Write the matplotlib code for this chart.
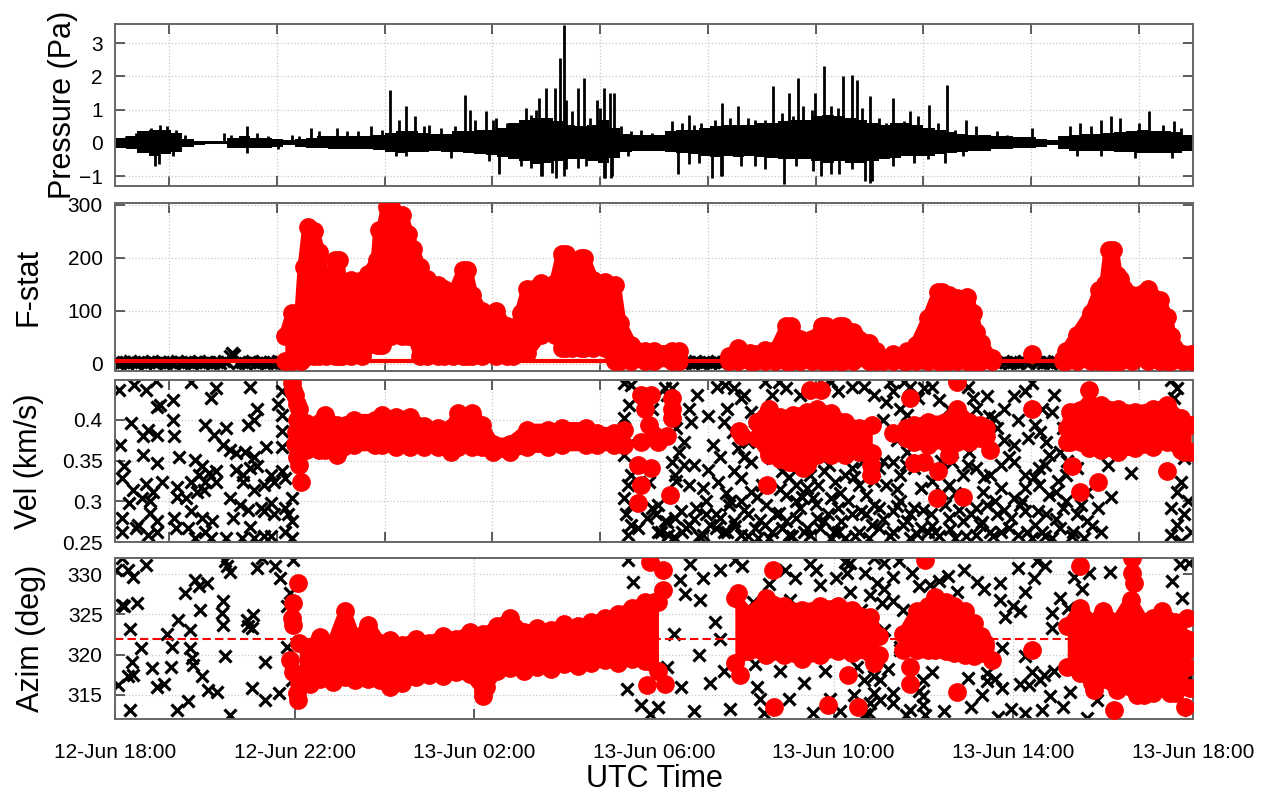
import matplotlib.pyplot as plt

plt.rcParams['font.family'] = ['Liberation Sans', 'DejaVu Sans']

# time axis: hours after 12-Jun 18:00 UTC
tick_hours = [0, 4, 8, 12, 16, 20, 24]
tick_labels = ['12-Jun 18:00', '12-Jun 22:00', '13-Jun 02:00', '13-Jun 06:00',
               '13-Jun 10:00', '13-Jun 14:00', '13-Jun 18:00']
upper_ticks = [1.2, 3.6, 6.0, 8.4, 10.8, 13.2, 15.6, 18.0, 20.4, 22.8]

# ---- pressure trace: envelope per 15 min bin + isolated spikes
p_t = [0.0, 0.25, 0.5, 0.75, 1.0, 1.25, 1.5, 1.75, 2.0, 2.25, 2.5, 2.75,
       3.0, 3.25, 3.5, 3.75, 4.0, 4.25, 4.5, 4.75, 5.0, 5.25, 5.5, 5.75,
       6.0, 6.25, 6.5, 6.75, 7.0, 7.25, 7.5, 7.75, 8.0, 8.25, 8.5, 8.75,
       9.0, 9.25, 9.5, 9.75, 10.0, 10.25, 10.5, 10.75, 11.0, 11.25, 11.5, 11.75,
       12.0, 12.25, 12.5, 12.75, 13.0, 13.25, 13.5, 13.75, 14.0, 14.25, 14.5, 14.75,
       15.0, 15.25, 15.5, 15.75, 16.0, 16.25, 16.5, 16.75, 17.0, 17.25, 17.5, 17.75,
       18.0, 18.25, 18.5, 18.75, 19.0, 19.25, 19.5, 19.75, 20.0, 20.25, 20.5, 20.75,
       21.0, 21.25, 21.5, 21.75, 22.0, 22.25, 22.5, 22.75, 23.0, 23.25, 23.5, 23.75, 24.0]
p_hi = [0.15, 0.22, 0.35, 0.4, 0.38, 0.3, 0.12, 0.06, 0.04, 0.04, 0.15, 0.2,
        0.15, 0.15, 0.12, 0.08, 0.12, 0.15, 0.2, 0.2, 0.2, 0.2, 0.22, 0.25,
        0.3, 0.35, 0.35, 0.3, 0.28, 0.28, 0.35, 0.35, 0.4, 0.4, 0.45, 0.6,
        0.7, 0.75, 0.75, 0.65, 0.55, 0.5, 0.55, 0.7, 0.45, 0.28, 0.25, 0.25,
        0.25, 0.35, 0.4, 0.4, 0.45, 0.5, 0.55, 0.55, 0.55, 0.6, 0.6, 0.65,
        0.7, 0.7, 0.8, 0.85, 0.8, 0.75, 0.7, 0.6, 0.55, 0.6, 0.6, 0.55,
        0.45, 0.4, 0.32, 0.28, 0.25, 0.25, 0.2, 0.2, 0.17, 0.17, 0.12, 0.08,
        0.2, 0.25, 0.28, 0.28, 0.3, 0.32, 0.35, 0.38, 0.35, 0.35, 0.32, 0.25, 0.25]
p_lo = [-0.15, -0.2, -0.3, -0.4, -0.35, -0.28, -0.12, -0.06, -0.04, -0.04, -0.15, -0.15,
        -0.15, -0.15, -0.12, -0.08, -0.12, -0.15, -0.17, -0.2, -0.2, -0.2, -0.2, -0.22,
        -0.28, -0.3, -0.28, -0.28, -0.25, -0.28, -0.28, -0.3, -0.35, -0.38, -0.42, -0.48,
        -0.55, -0.65, -0.62, -0.55, -0.5, -0.48, -0.55, -0.62, -0.45, -0.28, -0.25, -0.25,
        -0.25, -0.28, -0.32, -0.35, -0.4, -0.42, -0.4, -0.42, -0.4, -0.42, -0.45, -0.48,
        -0.5, -0.48, -0.55, -0.6, -0.55, -0.6, -0.6, -0.55, -0.48, -0.45, -0.4, -0.4,
        -0.4, -0.35, -0.32, -0.28, -0.25, -0.25, -0.2, -0.2, -0.17, -0.17, -0.12, -0.08,
        -0.2, -0.25, -0.25, -0.25, -0.25, -0.28, -0.28, -0.3, -0.32, -0.32, -0.32, -0.25, -0.25]
spike_t = [0.9, 2.93, 4.36, 5.71, 6.13, 6.48, 6.67, 7.79, 7.91, 8.25, 8.49, 8.56,
           9.14, 9.45, 9.5, 9.6, 9.8, 9.82, 9.91, 9.99, 10.0, 10.3, 10.45, 10.72,
           10.88, 10.9, 11.03, 11.05, 11.11, 12.54, 12.78, 13.3, 13.5, 13.51, 13.86,
           14.66, 14.9, 15.01, 15.2, 15.59, 15.78, 16.2, 16.4, 16.52, 16.7, 16.8,
           16.82, 17.32, 18.13, 18.52, 21.95, 22.18, 22.37, 23.03, 23.57,
           0.24, 0.47, 0.81, 1.01, 1.16, 1.35, 1.55, 2.43, 2.59, 3.17, 3.4, 3.94, 4.09,
           4.55, 4.94, 5.17, 5.4, 5.94, 6.33, 6.87, 6.98, 7.25, 7.56, 8.02, 8.41, 8.72,
           9.03, 9.26, 9.37, 10.03, 10.18, 10.57, 10.8, 11.26, 11.49, 11.72, 11.96,
           0.97, 1.28, 2.93, 3.63, 6.25, 6.48, 7.48, 8.33, 9.03, 9.26, 9.49, 9.72,
           10.03, 10.3, 10.49, 10.88, 11.07, 11.42,
           12.39, 12.62, 12.89, 13.05, 13.36, 13.7, 14.09, 14.24, 14.47, 14.86, 15.09,
           15.32, 15.52, 15.94, 16.09, 16.63, 17.02, 17.17, 17.56, 17.71, 17.87, 18.33,
           18.71, 18.95, 19.18, 19.64, 19.87, 20.41, 21.26, 21.49, 21.72, 22.8, 23.34, 23.73,
           12.78, 13.0, 13.51, 13.93, 14.24, 14.47, 15.17, 15.55, 15.71, 15.94, 16.13,
           16.4, 16.86, 17.33, 17.79, 18.1, 18.48, 18.87, 21.41, 21.95, 22.72, 23.53]
spike_v = [-0.7, 0.5, 0.45, 0.5, 1.6, 1.1, 0.8, 1.45, 1.0, 0.95, 0.75, -0.95,
           1.05, 1.35, -1.0, 1.65, 1.65, -1.05, 2.55, 3.55, -1.0, 1.65, 1.95, 1.3,
           1.65, -1.05, 1.5, -1.05, 1.5, -0.95, 0.85, -1.05, -1.0, 1.2, 1.1,
           1.7, -1.25, 1.5, 1.95, 1.5, 2.3, 2.0, 2.05, 1.9, -1.15, -1.2,
           1.4, 1.35, 1.15, 1.75, 0.7, 0.8, 0.75, 0.95, 0.65,
           0.2, 0.3, 0.45, 0.55, 0.5, 0.4, 0.25, 0.3, 0.25, 0.3, 0.2, 0.25, 0.22,
           0.35, 0.45, 0.35, 0.35, 0.4, 0.7, 0.5, 0.55, 0.45, 0.5, 0.7, 0.7, 0.6,
           0.4, 0.85, 1.0, 1.3, 0.95, 0.75, 1.05, 0.5, 0.35, 0.4, 0.3,
           -0.65, -0.4, -0.3, -0.2, -0.4, -0.4, -0.45, -0.55, -0.7, -0.75, -1.0, -0.9,
           -0.8, -0.75, -0.7, -1.05, -1.0, -0.4,
           0.65, 0.6, 0.55, 0.6, 0.7, 0.75, 0.75, 0.7, 0.7, 0.9, 0.8,
           1.1, 1.0, 1.1, 1.05, 1.05, 0.75, 0.6, 0.65, 0.95, 0.8, 0.6,
           0.4, 0.7, 0.5, 0.35, 0.25, 0.45, 0.5, 0.6, 0.5, 0.6, 0.55, 0.45,
           -0.65, -0.6, -1.0, -0.7, -0.7, -0.8, -0.7, -0.85, -1.0, -0.95, -0.95,
           -0.8, -1.15, -0.7, -0.6, -0.5, -0.6, -0.4, -0.4, -0.4, -0.45, -0.45]

# ---- F-stat: detections drawn as filled clusters (time, top, bottom)
fA_t = [3.78, 3.94, 4.13, 4.2, 4.3, 4.42, 4.55, 4.7, 4.9, 4.98, 5.06, 5.25, 5.5, 5.63,
        5.83, 5.88, 5.95, 6.05, 6.15, 6.4, 6.52, 6.64, 6.79, 6.94, 7.18, 7.33, 7.52,
        7.75, 7.83, 7.95, 8.18, 8.49, 8.72, 8.87, 9.03, 9.18, 9.49, 9.8, 9.95, 10.03,
        10.18, 10.38, 10.45, 10.64, 10.9, 11.13, 11.25, 11.49, 11.8, 12.0, 12.4, 12.55]
fA_hi = [52, 96, 96, 183, 258, 250, 211, 117, 196, 196, 120, 158, 158, 170,
         196, 252, 252, 296, 296, 280, 245, 217, 183, 161, 149, 142, 130,
         177, 177, 130, 99, 99, 71, 52, 96, 142, 152, 152, 208, 208,
         152, 199, 199, 158, 155, 149, 77, 36, 24, 24, 24, 24]
fA_lo = [5, 5, 5, 15, 15, 15, 15, 15, 15, 15, 15, 15, 15, 35,
         35, 35, 35, 52, 52, 52, 52, 52, 15, 15, 15, 15, 15,
         15, 15, 15, 15, 15, 15, 15, 20, 20, 55, 55, 30, 30,
         30, 30, 30, 30, 30, 5, 5, 5, 5, 5, 5, 5]
fB_t = [13.66, 13.86, 14.13, 14.24, 14.47, 14.7, 14.95, 15.05, 15.25, 15.52, 15.75, 15.83,
        15.94, 16.13, 16.21, 16.44, 16.79, 16.94, 17.1, 17.33]
fB_hi = [15, 30, 20, 18, 27, 27, 71, 71, 46, 46, 71, 71, 46, 71, 71, 61, 39, 24, 10, 18]
fC_t = [17.56, 17.64, 17.83, 18.1, 18.33, 18.42, 18.56, 18.75, 18.98, 19.1, 19.18, 19.29, 19.52]
fC_hi = [10, 24, 36, 86, 136, 136, 130, 125, 127, 96, 61, 39, 11]
fE_t = [21.1, 21.18, 21.41, 21.72, 21.91, 22.05, 22.14, 22.22, 22.3, 22.38, 22.65, 23.0,
        23.26, 23.42, 23.5, 23.77, 23.96]
fE_hi = [10, 24, 55, 96, 139, 150, 214, 214, 167, 161, 130, 142, 121, 89, 52, 18, 18]
f_floor = 5
f_single_t = [20.41]
f_single_v = [18]
f_thresh = 5
f_blk_t = [0.02, 0.1, 0.18, 0.26, 0.34, 0.42, 0.5, 0.58, 0.66, 0.74, 0.82, 0.9, 0.98,
           1.06, 1.14, 1.22, 1.3, 1.38, 1.46, 1.54, 1.62, 1.7, 1.78, 1.86, 1.94,
           2.02, 2.1, 2.18, 2.26, 2.34, 2.42, 2.5, 2.55, 2.6, 2.65, 2.74, 2.82, 2.9,
           2.98, 3.06, 3.14, 3.22, 3.3, 3.38, 3.46, 3.54, 3.62, 3.7, 3.78,
           12.6, 12.68, 12.76, 12.84, 12.92, 13.0, 13.08, 13.16, 13.24, 13.32, 13.4,
           13.48, 13.56, 17.4, 17.48, 19.6, 19.68, 19.76, 19.84, 19.92, 20.0, 20.08,
           20.16, 20.24, 20.32, 20.5, 20.58, 20.66, 20.74, 20.82, 20.9, 20.98, 21.06]
f_blk_v = [3, 1, 4, 2, 5, 3, 2, 4, 1, 3, 5, 2, 4,
           3, 1, 4, 2, 5, 3, 2, 4, 1, 3, 5, 2,
           4, 3, 1, 4, 2, 5, 3, 14, 20, 16, 2, 4, 1,
           3, 5, 2, 4, 3, 1, 4, 2, 5, 3, 2,
           3, 1, 4, 2, 5, 3, 2, 4, 1, 3, 5,
           2, 4, 3, 1, 4, 2, 5, 3, 2, 4, 1,
           3, 5, 2, 4, 3, 1, 4, 2, 5, 3, 2]

# ---- velocity: non-detections (black) and detections (red)
v_blk_t = [0.08, 0.43, 0.70, 0.92, 1.70, 2.24, 2.13, 3.01, 1.01, 1.28, 0.93, 3.17, 3.71, 3.63,
           0.35, 1.28, 2.01, 2.47, 2.97, 3.09, 3.71, 3.71, 0.12, 0.62, 0.74, 0.93, 1.32,
           2.20, 2.40, 2.55, 2.70, 2.90, 3.09, 3.36, 3.71, 0.62, 1.43, 1.78, 0.93, 0.20,
           1.93, 2.09, 2.24, 2.70, 2.86, 3.01, 3.17, 3.48, 3.71, 0.16, 0.39, 0.70, 0.85,
           1.05, 1.39, 1.70, 1.86, 2.01, 2.24, 2.86, 3.09, 3.32, 3.55, 3.78, 0.32, 0.59,
           0.78, 1.39, 1.59, 1.82, 1.97, 2.55, 2.78, 2.97, 3.24, 3.48, 3.78, 3.94, 0.16,
           0.51, 0.78, 0.93, 1.32, 1.70, 1.93, 2.16, 2.63, 3.01, 3.32, 3.55, 3.86, 3.94,
           0.16, 0.47, 0.74, 0.93, 1.36, 1.62, 2.01, 2.13, 2.47, 2.82, 3.09, 3.32, 3.48,
           3.78, 3.94, 1.78,
           11.34, 11.49, 11.45, 11.34, 11.49, 11.34, 11.49, 11.42, 11.34, 11.49, 11.38,
           11.49, 11.42, 11.65, 11.84, 11.96, 11.88, 11.96,
           12.24, 12.39, 12.28, 12.78, 12.82, 12.66, 12.55, 12.39, 12.66, 12.47, 12.78,
           13.09, 12.08, 12.05, 12.24, 12.47, 12.62, 12.08, 12.32, 12.78, 12.93,
           13.59, 13.78, 13.93, 13.63, 13.55, 13.32, 13.47, 13.86, 14.09, 14.24, 13.78,
           13.93, 14.17, 13.43, 13.70, 13.93, 14.17, 14.4, 13.47, 13.78, 14.09, 14.24,
           13.63, 13.93, 13.16, 13.39, 13.09, 14.32,
           14.47, 14.78, 14.94, 14.63, 15.25, 14.63, 14.86, 15.17, 15.48, 14.94, 15.17,
           15.4, 15.55, 14.71, 14.47, 14.86, 15.17, 15.4, 15.63, 14.55, 15.01, 15.48,
           15.94, 16.09, 15.79, 16.25, 16.56, 16.4, 16.63, 15.79, 16.02, 16.25, 16.56,
           16.71, 15.94, 16.09, 16.4, 16.71, 16.86, 15.79, 16.09, 16.56, 15.94, 16.25, 16.79,
           16.67, 17.25, 17.56, 17.33, 18.02, 17.17, 17.48, 17.64, 17.87, 17.94, 17.64,
           17.33, 17.79, 17.48, 17.17, 17.02, 17.94, 17.48, 17.79, 17.33, 17.02, 17.64,
           17.94, 17.33, 17.02, 17.71, 18.1,
           18.56, 19.1, 19.41, 19.18, 19.56, 19.25, 19.64, 19.02, 18.64, 18.56, 18.87,
           19.18, 19.49, 19.18, 19.33, 18.56, 18.87, 19.25, 18.71, 19.18, 19.49, 18.25,
           18.48, 18.17,
           19.79, 20.02, 20.41, 20.64, 20.49, 20.87, 20.02, 20.33, 20.72, 19.72, 20.02,
           20.26, 20.57, 20.8, 19.72, 20.02, 20.26, 20.57, 20.8, 19.64, 19.95, 20.26,
           20.49, 20.72, 19.72, 20.1, 20.41, 20.64, 20.87,
           21.03, 21.18, 21.41, 21.64, 22.18, 20.95, 21.18, 21.41, 21.64, 21.88, 21.03,
           21.34, 21.57, 21.95, 22.61, 22.11,
           23.5, 23.65, 23.57, 23.8, 23.73, 23.65, 23.88, 23.5, 23.8, 23.65, 23.96, 23.5, 23.73]
v_blk_v = [0.437, 0.443, 0.437, 0.448, 0.446, 0.439, 0.427, 0.440, 0.418, 0.424, 0.416, 0.414, 0.435, 0.420,
           0.396, 0.400, 0.394, 0.390, 0.394, 0.400, 0.406, 0.386, 0.369, 0.380, 0.388, 0.382, 0.380,
           0.382, 0.369, 0.363, 0.359, 0.361, 0.355, 0.367, 0.367, 0.357, 0.355, 0.351, 0.347, 0.343,
           0.343, 0.335, 0.337, 0.339, 0.333, 0.341, 0.343, 0.333, 0.337, 0.329, 0.314, 0.322, 0.312,
           0.324, 0.318, 0.324, 0.333, 0.324, 0.324, 0.324, 0.314, 0.320, 0.324, 0.329, 0.298, 0.304,
           0.300, 0.306, 0.304, 0.312, 0.314, 0.304, 0.296, 0.290, 0.292, 0.298, 0.292, 0.304, 0.280,
           0.271, 0.286, 0.276, 0.280, 0.288, 0.280, 0.276, 0.280, 0.269, 0.288, 0.284, 0.284, 0.276,
           0.263, 0.267, 0.259, 0.263, 0.267, 0.267, 0.263, 0.255, 0.255, 0.255, 0.255, 0.257, 0.257,
           0.263, 0.255, 0.255,
           0.445, 0.443, 0.418, 0.402, 0.373, 0.357, 0.333, 0.320, 0.304, 0.296, 0.284,
           0.271, 0.259, 0.267, 0.280, 0.292, 0.324, 0.414,
           0.439, 0.439, 0.431, 0.414, 0.398, 0.373, 0.361, 0.349, 0.345, 0.333, 0.320,
           0.316, 0.296, 0.284, 0.276, 0.280, 0.263, 0.263, 0.259, 0.271, 0.292,
           0.443, 0.439, 0.427, 0.414, 0.398, 0.369, 0.355, 0.365, 0.373, 0.386, 0.337,
           0.329, 0.349, 0.324, 0.300, 0.300, 0.312, 0.320, 0.280, 0.276, 0.284, 0.267,
           0.263, 0.259, 0.284, 0.267, 0.259, 0.255,
           0.447, 0.447, 0.439, 0.431, 0.431, 0.353, 0.337, 0.320, 0.333, 0.308, 0.300,
           0.316, 0.304, 0.284, 0.271, 0.267, 0.280, 0.267, 0.280, 0.255, 0.259, 0.259,
           0.447, 0.435, 0.443, 0.394, 0.373, 0.341, 0.349, 0.337, 0.324, 0.333, 0.320,
           0.308, 0.304, 0.292, 0.284, 0.284, 0.271, 0.276, 0.263, 0.263, 0.255, 0.255, 0.255,
           0.441, 0.447, 0.447, 0.435, 0.439, 0.422, 0.414, 0.406, 0.427, 0.373, 0.361,
           0.349, 0.341, 0.333, 0.320, 0.341, 0.316, 0.300, 0.292, 0.288, 0.292, 0.276,
           0.267, 0.263, 0.267, 0.255, 0.263,
           0.414, 0.427, 0.429, 0.414, 0.402, 0.390, 0.390, 0.361, 0.349, 0.320, 0.333,
           0.341, 0.333, 0.292, 0.312, 0.280, 0.276, 0.271, 0.255, 0.259, 0.263, 0.263,
           0.296, 0.284,
           0.414, 0.429, 0.445, 0.414, 0.394, 0.410, 0.369, 0.378, 0.373, 0.345, 0.349,
           0.333, 0.341, 0.357, 0.316, 0.304, 0.316, 0.320, 0.308, 0.284, 0.280, 0.288,
           0.271, 0.284, 0.263, 0.259, 0.255, 0.263, 0.255,
           0.361, 0.333, 0.341, 0.312, 0.306, 0.312, 0.300, 0.284, 0.276, 0.292, 0.267,
           0.263, 0.255, 0.263, 0.335, 0.345,
           0.449, 0.439, 0.427, 0.353, 0.324, 0.312, 0.300, 0.292, 0.284, 0.271, 0.263, 0.259, 0.251]
# the crowded afternoon/morning stretch of non-detections
v_blk2_t = [12.15, 12.3, 12.45, 12.6, 12.72, 12.88, 13.0, 13.15, 13.25, 13.38, 13.55, 13.66,
            13.8, 14.0, 14.1, 14.35, 14.5, 14.62, 14.78, 14.95, 15.08, 15.25, 15.35, 15.6,
            15.7, 15.88, 16.0, 16.17, 16.33, 16.48, 16.6, 16.9, 17.1, 17.25, 17.42, 17.55,
            17.7, 17.85, 18.0, 18.18, 18.35, 18.42, 18.6, 18.78, 18.95, 19.05, 19.3, 19.42,
            19.55, 19.8, 19.9, 20.15, 20.3, 20.55, 20.7, 20.95, 21.1, 21.3, 21.5, 21.75,
            12.5, 12.9, 13.2, 13.6, 14.0, 14.3, 14.8, 15.0, 15.3, 15.65, 15.9, 16.15, 16.45,
            16.9, 17.1, 17.4, 17.6, 18.2, 18.4, 18.7, 19.0, 19.35, 19.6, 19.9, 20.2, 20.45,
            20.7, 21.0, 21.2,
            12.5, 12.95, 13.2, 13.4, 13.75, 14.0, 14.15, 16.4, 16.9, 17.1, 17.4, 17.7, 18.2,
            18.35, 19.0, 19.45, 19.8, 20.1, 20.25, 20.6, 20.9, 21.1]
v_blk2_v = [0.262, 0.275, 0.256, 0.288, 0.268, 0.279, 0.258, 0.300, 0.271, 0.285, 0.262, 0.296,
            0.270, 0.289, 0.258, 0.277, 0.296, 0.262, 0.286, 0.276, 0.258, 0.292, 0.262, 0.297,
            0.268, 0.285, 0.262, 0.276, 0.300, 0.258, 0.288, 0.296, 0.278, 0.257, 0.295, 0.271,
            0.285, 0.260, 0.290, 0.270, 0.258, 0.310, 0.266, 0.290, 0.258, 0.284, 0.275, 0.296,
            0.258, 0.290, 0.268, 0.296, 0.262, 0.288, 0.258, 0.279, 0.292, 0.258, 0.296, 0.270,
            0.325, 0.345, 0.338, 0.310, 0.355, 0.305, 0.315, 0.330, 0.305, 0.320, 0.345, 0.310,
            0.330, 0.325, 0.350, 0.315, 0.345, 0.325, 0.350, 0.310, 0.345, 0.330, 0.300, 0.355,
            0.300, 0.330, 0.345, 0.325, 0.350,
            0.390, 0.430, 0.405, 0.440, 0.385, 0.430, 0.410, 0.440, 0.430, 0.400, 0.375, 0.440,
            0.440, 0.425, 0.440, 0.405, 0.375, 0.400, 0.435, 0.385, 0.430, 0.390]

vA_t = [4.1, 4.25, 4.55, 4.67, 4.94, 5.32, 5.79, 5.94, 6.25, 6.56, 6.87, 7.18, 7.48, 7.64,
        7.95, 8.18, 8.41, 8.79, 9.18, 9.64, 9.95, 10.49, 10.72, 11.11, 11.34]
vA_hi = [0.392, 0.396, 0.396, 0.406, 0.394, 0.400, 0.400, 0.406, 0.404, 0.404, 0.392, 0.390,
         0.390, 0.408, 0.408, 0.394, 0.371, 0.371, 0.388, 0.388, 0.390, 0.390, 0.384, 0.384, 0.388]
vA_lo = [0.365, 0.363, 0.363, 0.363, 0.357, 0.369, 0.369, 0.369, 0.367, 0.367, 0.367, 0.367,
         0.361, 0.367, 0.367, 0.367, 0.361, 0.361, 0.367, 0.367, 0.369, 0.369, 0.369, 0.369, 0.369]
vB_t = [14.3, 14.55, 14.8, 15.09, 15.4, 15.63, 15.94, 16.25, 16.56, 16.86]
vB_hi = [0.398, 0.414, 0.404, 0.406, 0.410, 0.414, 0.408, 0.398, 0.390, 0.394]
vB_lo = [0.378, 0.357, 0.352, 0.349, 0.345, 0.357, 0.357, 0.357, 0.361, 0.360]
vC_t = [17.6, 17.79, 18.1, 18.48, 18.75, 19.02, 19.25, 19.4]
vC_hi = [0.390, 0.394, 0.398, 0.398, 0.414, 0.398, 0.394, 0.390]
vC_lo = [0.378, 0.373, 0.369, 0.373, 0.373, 0.373, 0.378, 0.380]
vD_t = [21.2, 21.26, 21.68, 21.95, 22.34, 22.72, 23.11, 23.42, 23.73, 23.96]
vD_hi = [0.390, 0.410, 0.420, 0.418, 0.414, 0.410, 0.414, 0.418, 0.402, 0.394]
vD_lo = [0.373, 0.373, 0.365, 0.363, 0.361, 0.365, 0.367, 0.373, 0.363, 0.361]
v_red_t = [3.94, 3.97, 4.01, 4.05, 4.09, 4.05, 4.02, 4.0, 4.05, 4.09, 4.15,
           11.72, 11.8, 11.88, 11.72, 11.65, 11.72, 11.65,
           11.93, 12.0, 11.93, 12.39, 12.39, 12.39, 12.28, 12.08, 12.35,
           13.9, 13.97, 14.51, 15.48, 15.71, 15.01, 15.32, 16.83, 16.83,
           17.33, 17.71, 18.75, 17.79, 18.02, 18.33, 18.29, 18.87, 18.56, 19.49,
           20.41, 21.68, 21.3, 21.49, 21.88, 23.42, 23.8]
v_red_v = [0.445, 0.437, 0.431, 0.420, 0.414, 0.400, 0.385, 0.370, 0.355, 0.345, 0.324,
           0.431, 0.414, 0.394, 0.373, 0.345, 0.320, 0.298,
           0.431, 0.382, 0.341, 0.427, 0.414, 0.402, 0.380, 0.373, 0.308,
           0.386, 0.380, 0.320, 0.437, 0.437, 0.349, 0.341, 0.345, 0.333,
           0.384, 0.427, 0.447, 0.347, 0.349, 0.337, 0.304, 0.306, 0.357, 0.363,
           0.414, 0.437, 0.343, 0.312, 0.324, 0.337, 0.361]

# ---- azimuth
az_ref = 322
az_blk_t = [0.02, 0.15, 0.30, 0.41, 0.68, 0.15, 0.19, 0.50, 0.33, 0.57, 0.07, 0.30, 0.41, 0.37,
            0.33, 0.82, 0.93, 1.08, 1.24, 1.15, 1.26, 1.41, 1.37, 1.63, 1.56, 1.67, 1.67, 1.71,
            1.74, 1.78, 1.86, 1.93, 1.89, 2.04, 2.08, 2.26, 2.41, 2.38, 2.41, 2.45, 2.49, 2.56,
            2.45, 2.56, 2.93, 2.97, 3.08, 3.04, 3.16, 3.27, 3.34, 3.04, 3.34, 3.56, 3.67, 3.64,
            3.82, 3.93, 3.97, 3.82, 3.90,
            11.43, 11.54, 11.47, 11.43, 11.52, 11.4, 11.7, 11.9,
            12.58, 12.8, 13.03, 13.47, 13.47, 13.8, 14.14, 14.25, 14.37, 14.92, 15.03, 15.48,
            15.7, 15.92,
            16.37, 16.89, 17.11, 17.45, 16.3, 16.7, 16.96, 17.11, 17.33, 17.74, 16.37, 16.81,
            17.07, 17.33, 17.55, 17.89, 16.6, 17.11, 17.48, 18.34, 18.15, 18.75, 19.34, 19.71,
            19.71, 20.0, 20.15, 19.82, 20.27, 20.86, 20.86, 21.22, 20.53, 19.75, 20.27, 20.42,
            20.68, 20.6, 20.34, 20.15, 19.41, 19.41, 19.0, 19.75, 20.82, 20.64, 19.67, 21.27,
            21.64, 22.16, 23.54, 23.76, 23.72, 23.91, 23.72, 23.91, 23.72, 23.94, 23.94,
            16.52, 16.67, 16.89, 17.04, 16.89, 16.81, 17.04, 17.33, 17.33, 17.7, 17.99, 17.99,
            17.99, 18.03, 16.78, 17.48, 21.35, 21.68, 21.53, 21.86,
            12.1, 12.3, 12.45, 12.6, 12.7, 12.9, 13.0, 13.1, 13.25, 13.35, 13.55, 13.7, 13.95,
            14.2, 14.3, 14.45, 14.55, 14.8, 15.0, 15.15, 15.35, 15.55, 15.6, 15.8, 16.05, 16.15,
            16.25, 16.45, 16.7, 17.2, 17.6, 17.9, 18.2, 18.45, 18.55, 18.9, 19.05, 19.2, 19.3,
            19.6, 19.95, 20.1, 20.25, 20.45, 20.7, 20.9, 21.05, 21.1]
az_blk_v = [330.5, 332.0, 330.5, 329.7, 331.1, 326.2, 326.0, 326.4, 323.2, 320.8, 316.2, 317.3,
            317.5, 319.1, 313.1, 318.3, 316.0, 316.4, 318.5, 322.5, 321.0, 324.3, 313.1, 314.2,
            327.6, 323.1, 320.8, 319.6, 318.7, 329.3, 328.5, 317.3, 325.6, 328.9, 315.6, 315.4,
            326.6, 325.2, 323.7, 331.6, 331.0, 330.3, 319.8, 312.5, 324.3, 323.5, 324.9, 323.3,
            330.7, 332.0, 319.1, 315.8, 314.4, 331.0, 329.5, 315.2, 321.0, 316.9, 331.8, 326.0,
            327.6,
            331.8, 329.0, 325.3, 321.9, 319.4, 315.7, 313.8, 312.6,
            329.3, 331.2, 326.8, 330.5, 321.9, 331.8, 321.9, 318.8, 314.5, 330.5, 326.8, 331.2,
            328.7, 314.5,
            331.4, 332.0, 331.4, 331.6, 330.1, 330.1, 328.9, 328.1, 329.7, 330.1, 327.8, 327.4,
            326.4, 326.6, 325.6, 328.5, 325.6, 323.1, 321.0, 329.1, 328.7, 327.8, 328.1, 328.9,
            326.8, 326.0, 325.4, 324.7, 327.8, 325.2, 323.3, 325.8, 331.6, 320.8, 319.8, 317.9,
            317.5, 316.9, 316.2, 316.4, 317.7, 316.7, 317.1, 315.8, 314.8, 313.1, 312.3, 315.4,
            312.1, 330.3, 329.1, 327.0, 331.2, 331.4, 323.1, 318.5, 317.3, 317.1, 313.1,
            318.5, 316.9, 317.3, 316.9, 315.2, 314.0, 314.4, 315.2, 314.0, 313.1, 316.9, 314.8,
            313.8, 312.5, 312.7, 320.6, 329.7, 330.1, 328.1, 314.4,
            313.5, 318.5, 322.5, 316.0, 327.5, 313.0, 320.0, 329.5, 316.5, 324.0, 318.0, 313.2,
            331.0, 326.5, 316.0, 312.8, 328.8, 318.0, 314.5, 329.5, 316.5, 312.8, 330.5, 318.0,
            329.5, 313.0, 331.5, 315.0, 312.6, 318.2, 312.5, 315.5, 317.8, 313.0, 329.8, 330.5,
            313.5, 329.0, 315.0, 317.0, 313.2, 330.8, 312.8, 329.5, 331.0, 318.0, 327.0, 313.5]

aA_t = [4.1, 4.34, 4.57, 4.85, 5.12, 5.35, 5.64, 5.9, 6.12, 6.4, 6.7, 7.0, 7.3, 7.6, 7.9,
        8.2, 8.5, 8.8, 9.1, 9.4, 9.7, 10.0, 10.3, 10.6, 10.9, 11.2, 11.5, 11.8, 12.1]
aA_hi = [321.4, 321.0, 322.2, 321.4, 325.4, 321.8, 323.7, 321.5, 321.8, 321.2, 322.0, 321.5,
         322.3, 322.0, 322.8, 322.5, 323.5, 324.5, 322.8, 323.3, 323.0, 323.8, 323.5, 324.0,
         324.5, 325.0, 325.8, 326.5, 326.5]
aA_lo = [316.5, 316.4, 317.0, 316.6, 317.2, 316.8, 317.0, 316.8, 316.0, 316.5, 317.2, 317.5,
         317.3, 317.8, 317.6, 315.5, 318.0, 318.3, 318.0, 318.5, 318.2, 318.8, 318.6, 319.0,
         319.3, 319.0, 319.5, 319.2, 318.0]
aB_t = [13.8, 14.1, 14.5, 14.9, 15.3, 15.7, 16.1, 16.4, 16.8, 17.0]
aB_hi = [327.0, 325.0, 327.0, 326.0, 325.5, 326.0, 326.0, 325.6, 324.7, 322.3]
aB_lo = [319.0, 320.5, 320.0, 320.0, 319.5, 320.0, 320.5, 320.2, 320.2, 320.0]
aC_t = [17.55, 17.85, 18.1, 18.26, 18.5, 18.67, 18.93, 19.12, 19.27, 19.38]
aC_hi = [322.5, 325.4, 326.0, 327.2, 326.5, 326.0, 325.4, 323.9, 322.3, 321.5]
aC_lo = [320.6, 320.6, 320.6, 320.6, 320.4, 320.2, 320.0, 319.8, 320.2, 321.0]
aD_t = [21.2, 21.49, 21.75, 22.0, 22.3, 22.61, 22.9, 23.1, 23.31, 23.6, 23.87]
aD_hi = [323.5, 325.8, 324.0, 325.4, 324.0, 326.8, 324.0, 324.5, 325.4, 324.0, 322.0]
aD_lo = [318.5, 317.7, 316.5, 317.0, 315.6, 316.0, 315.0, 315.2, 316.0, 315.2, 318.5]
a_red_t = [4.08, 3.97, 3.93, 3.97, 3.9, 3.97, 4.08, 4.05, 8.2, 8.25,
           11.9, 12.2, 12.2, 12.0, 12.25, 11.85,
           14.65, 14.67, 15.88, 13.87, 13.92,
           18.04, 17.71, 17.71, 18.75, 19.53, 20.42, 16.89, 16.33, 16.55,
           21.48, 22.64, 22.64, 22.68, 22.24, 22.75, 23.49, 23.87, 23.94, 23.83, 21.79, 23.87]
a_red_v = [328.9, 326.4, 324.5, 323.7, 319.3, 317.9, 314.4, 315.2, 314.8, 316.0,
           331.5, 330.5, 328.0, 326.5, 316.3, 316.2,
           330.5, 313.5, 313.8, 327.6, 317.5,
           331.8, 318.5, 316.4, 315.4, 319.3, 320.6, 318.9, 317.5, 313.5,
           331.0, 332.0, 330.1, 328.9, 313.1, 315.0, 315.2, 320.6, 315.8, 313.5, 315.6, 324.5]

RED = '#ff0000'
RED_MS = 12.5
X_KW = dict(ls='none', marker='x', ms=8.5, mew=2.3, color='k')
TICK_FS = 15
LABEL_FS = 22


def cluster(ax, t, hi, lo):
    # dense run of overlapping detections: dots on the edges, gaps filled
    ax.fill_between(t, lo, hi, color=RED, lw=0, zorder=3)
    for edge in (hi, lo):
        ax.plot(t, edge, color=RED, lw=RED_MS * 0.7, solid_capstyle='round',
                solid_joinstyle='round', zorder=3)
        ax.plot(t, edge, 'o', ms=RED_MS, color=RED, zorder=3)


def style(ax, xt):
    ax.set_xlim(0, 24)
    ax.set_xticks(xt)
    ax.grid(True, ls=':', color='#c8c8c8', lw=0.9)
    ax.set_axisbelow(True)
    ax.tick_params(direction='in', length=7, width=1.1, top=True, right=True,
                   labelsize=TICK_FS, pad=9, color='#333333')
    for s in ax.spines.values():
        s.set_color('#666666')
        s.set_linewidth(1.4)


fig = plt.figure(figsize=(12.64, 7.95), dpi=100)
L, W = 0.091, 0.8528
ax1 = fig.add_axes([L, 0.766, W, 0.204])
ax2 = fig.add_axes([L, 0.533, W, 0.212])
ax3 = fig.add_axes([L, 0.318, W, 0.204])
ax4 = fig.add_axes([L, 0.0956, W, 0.2025])

# pressure
ax1.fill_between(p_t, p_lo, p_hi, step='post', color='k', lw=0)
ax1.vlines(spike_t, 0, spike_v, color='k', lw=2)
ax1.set_ylim(-1.3, 3.58)
ax1.set_yticks([-1, 0, 1, 2, 3])
style(ax1, upper_ticks)
ax1.set_xticklabels([])
ax1.set_ylabel('Pressure (Pa)', fontsize=LABEL_FS)
ax1.yaxis.set_label_coords(-0.034, 0.5)

# F-stat
ax2.plot(f_blk_t, f_blk_v, **X_KW)
ax2.plot([0, 24], [f_thresh, f_thresh], color=RED, lw=3, zorder=4)
cluster(ax2, fA_t, fA_hi, fA_lo)
for tt, hh in [(fB_t, fB_hi), (fC_t, fC_hi), (fE_t, fE_hi)]:
    cluster(ax2, tt, hh, [f_floor] * len(tt))
ax2.plot(f_single_t, f_single_v, 'o', ms=RED_MS, color=RED, zorder=3)
ax2.set_ylim(-14, 304)
ax2.set_yticks([0, 100, 200, 300])
style(ax2, upper_ticks)
ax2.set_xticklabels([])
ax2.set_ylabel('F-stat', fontsize=LABEL_FS)
ax2.yaxis.set_label_coords(-0.066, 0.5)

# velocity
ax3.plot(v_blk_t, v_blk_v, **X_KW)
ax3.plot(v_blk2_t, v_blk2_v, **X_KW)
for tt, hh, ll in [(vA_t, vA_hi, vA_lo), (vB_t, vB_hi, vB_lo), (vC_t, vC_hi, vC_lo),
                   (vD_t, vD_hi, vD_lo)]:
    cluster(ax3, tt, hh, ll)
ax3.plot(v_red_t, v_red_v, 'o', ms=RED_MS, color=RED, zorder=3)
ax3.set_ylim(0.25, 0.449)
ax3.set_yticks([0.25, 0.3, 0.35, 0.4])
ax3.set_yticklabels(['0.25', '0.3', '0.35', '0.4'])
style(ax3, upper_ticks)
ax3.set_xticklabels([])
ax3.set_ylabel('Vel (km/s)', fontsize=LABEL_FS)
ax3.yaxis.set_label_coords(-0.066, 0.5)

# azimuth
ax4.plot(az_blk_t, az_blk_v, **X_KW)
ax4.plot([0, 24], [az_ref, az_ref], color=RED, lw=1.5, ls=(0, (4, 2)), zorder=2)
for tt, hh, ll in [(aA_t, aA_hi, aA_lo), (aB_t, aB_hi, aB_lo), (aC_t, aC_hi, aC_lo),
                   (aD_t, aD_hi, aD_lo)]:
    cluster(ax4, tt, hh, ll)
ax4.plot(a_red_t, a_red_v, 'o', ms=RED_MS, color=RED, zorder=3)
ax4.set_ylim(312, 332)
ax4.set_yticks([315, 320, 325, 330])
style(ax4, tick_hours)
ax4.tick_params(axis='x', top=False, pad=17)
ax4.set_xticklabels(tick_labels, fontsize=TICK_FS)
ax4.set_ylabel('Azim (deg)', fontsize=LABEL_FS)
ax4.yaxis.set_label_coords(-0.064, 0.5)
ax4.set_xlabel('UTC Time', fontsize=LABEL_FS, labelpad=2)

fig.savefig('out.png', dpi=100)
